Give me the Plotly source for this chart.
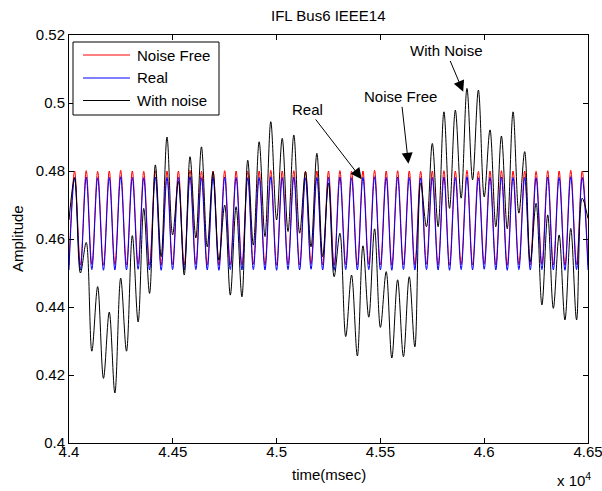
import plotly.graph_objects as go

# ---------------- data ----------------
t_start = 44000
peak_times = [44027, 44083, 44138, 44194, 44249, 44305, 44360, 44416, 44472, 44527,
              44583, 44638, 44694, 44750, 44805, 44861, 44916, 44972, 45027, 45083,
              45139, 45194, 45250, 45305, 45361, 45416, 45472, 45528, 45583, 45639,
              45694, 45750, 45806, 45861, 45917, 45972, 46028, 46083, 46139, 46195,
              46250, 46306, 46361, 46417, 46472]
trough_times = [44055, 44110, 44166, 44221, 44277, 44333, 44388, 44444, 44499, 44555,
                44611, 44666, 44722, 44777, 44833, 44888, 44944, 45000, 45055, 45111,
                45166, 45222, 45277, 45333, 45389, 45444, 45500, 45555, 45611, 45666,
                45722, 45778, 45833, 45889, 45944, 46000, 46056, 46111, 46167, 46222,
                46278, 46333, 46389, 46445, 46500]

noise_free_start = 0.4524
noise_free_peaks = [0.4800, 0.4801, 0.4799, 0.4800, 0.4802, 0.4800, 0.4799, 0.4801, 0.4800, 0.4800,
                    0.4802, 0.4799, 0.4800, 0.4801, 0.4800, 0.4799, 0.4800, 0.4802, 0.4800, 0.4801,
                    0.4799, 0.4800, 0.4800, 0.4801, 0.4799, 0.4800, 0.4802, 0.4800, 0.4801, 0.4800,
                    0.4799, 0.4800, 0.4801, 0.4800, 0.4802, 0.4799, 0.4800, 0.4801, 0.4800, 0.4800,
                    0.4799, 0.4801, 0.4800, 0.4802, 0.4800]
noise_free_troughs = [0.4524, 0.4526, 0.4523, 0.4525, 0.4524, 0.4527, 0.4524, 0.4523, 0.4525, 0.4524,
                      0.4526, 0.4524, 0.4523, 0.4525, 0.4524, 0.4526, 0.4524, 0.4523, 0.4525, 0.4524,
                      0.4527, 0.4524, 0.4523, 0.4525, 0.4524, 0.4526, 0.4524, 0.4523, 0.4525, 0.4524,
                      0.4526, 0.4524, 0.4523, 0.4525, 0.4524, 0.4527, 0.4524, 0.4523, 0.4525, 0.4524,
                      0.4526, 0.4524, 0.4523, 0.4525, 0.4524]

real_start = 0.4509
real_peaks = [0.4781, 0.4782, 0.4780, 0.4781, 0.4783, 0.4781, 0.4780, 0.4782, 0.4781, 0.4781,
              0.4783, 0.4780, 0.4781, 0.4782, 0.4781, 0.4780, 0.4781, 0.4783, 0.4781, 0.4782,
              0.4780, 0.4781, 0.4781, 0.4782, 0.4780, 0.4781, 0.4783, 0.4781, 0.4782, 0.4781,
              0.4780, 0.4781, 0.4782, 0.4781, 0.4783, 0.4780, 0.4781, 0.4782, 0.4781, 0.4781,
              0.4780, 0.4782, 0.4781, 0.4783, 0.4781]
real_troughs = [0.4509, 0.4510, 0.4508, 0.4509, 0.4509, 0.4511, 0.4509, 0.4508, 0.4510, 0.4509,
                0.4510, 0.4509, 0.4508, 0.4510, 0.4509, 0.4510, 0.4509, 0.4508, 0.4510, 0.4509,
                0.4511, 0.4509, 0.4508, 0.4510, 0.4509, 0.4510, 0.4509, 0.4508, 0.4510, 0.4509,
                0.4510, 0.4509, 0.4508, 0.4510, 0.4509, 0.4511, 0.4509, 0.4508, 0.4510, 0.4509,
                0.4510, 0.4509, 0.4508, 0.4510, 0.4509]

noise_start = 0.4656
noise_peaks = [0.4780, 0.4590, 0.4460, 0.4385, 0.4485, 0.4610, 0.4690, 0.4818, 0.4900, 0.4769,
               0.4842, 0.4871, 0.4798, 0.4700, 0.4695, 0.4832, 0.4886, 0.4945, 0.4896, 0.4906,
               0.4798, 0.4852, 0.4764, 0.4617, 0.4494, 0.4580, 0.4630, 0.4504, 0.4480, 0.4489,
               0.4765, 0.4881, 0.4974, 0.4979, 0.5043, 0.5038, 0.4921, 0.4903, 0.4974, 0.4857,
               0.4705, 0.4671, 0.4612, 0.4631, 0.4720]
noise_troughs = [0.4500, 0.4270, 0.4190, 0.4147, 0.4270, 0.4356, 0.4440, 0.4548, 0.4612, 0.4494,
                 0.4603, 0.4577, 0.4538, 0.4435, 0.4430, 0.4582, 0.4607, 0.4656, 0.4622, 0.4617,
                 0.4577, 0.4548, 0.4489, 0.4313, 0.4256, 0.4370, 0.4340, 0.4250, 0.4254, 0.4283,
                 0.4636, 0.4636, 0.4690, 0.4720, 0.4774, 0.4724, 0.4636, 0.4630, 0.4676, 0.4533,
                 0.4406, 0.4396, 0.4362, 0.4362, 0.4660]

x_tick_vals = [44000, 44500, 45000, 45500, 46000, 46500]
x_tick_text = ["4.4", "4.45", "4.5", "4.55", "4.6", "4.65"]
y_tick_vals = [0.40, 0.42, 0.44, 0.46, 0.48, 0.50, 0.52]
y_tick_text = ["0.4", "0.42", "0.44", "0.46", "0.48", "0.5", "0.52"]

# text labels with arrows: (text, text x, text y, arrow-tip x, arrow-tip y)
arrow_labels = [
    ("Real", 45151, 0.4981, 45410, 0.4776),
    ("Noise Free", 45599, 0.5018, 45635, 0.4821),
    ("With Noise", 45816, 0.5153, 45899, 0.5033),
]


def build(start, peaks, troughs):
    xs, ys = [t_start], [start]
    for tp, p, tt, tr in zip(peak_times, peaks, trough_times, troughs):
        xs += [tp, tt]
        ys += [p, tr]
    return xs, ys


W, H = 602, 491
PL, PR, PT, PB = 69, 588, 35, 443          # plot area in page pixels
L, T, R, B = PL, PT, W - PR, H - PB
PW, PH = PR - PL, PB - PT


def px(xp):
    return (xp - PL) / PW


def py(yp):
    return (PB - yp) / PH


FONT = "Liberation Sans, Arial, sans-serif"
FS = 15

fig = go.Figure()
series = [
    ("Noise Free", "#ff0000", noise_free_start, noise_free_peaks, noise_free_troughs),
    ("Real", "#0000ff", real_start, real_peaks, real_troughs),
    ("With noise", "#000000", noise_start, noise_peaks, noise_troughs),
]
for name, col, s, p, tr in series:
    xs, ys = build(s, p, tr)
    fig.add_trace(go.Scatter(x=xs, y=ys, mode="lines", name=name,
                             line=dict(color=col, width=1, shape="spline", smoothing=1.0),
                             showlegend=False, hoverinfo="skip"))

shapes = []
annotations = []

# manual legend (MATLAB style)
shapes.append(dict(type="rect", xref="paper", yref="paper",
                   x0=px(73), x1=px(219), y0=py(115), y1=py(42),
                   line=dict(color="black", width=1), fillcolor="white", layer="above"))
for (name, col, *_), yy in zip(series, [55, 78, 100.5]):
    shapes.append(dict(type="line", xref="paper", yref="paper",
                       x0=px(83), x1=px(130), y0=py(yy), y1=py(yy),
                       line=dict(color=col, width=1), layer="above"))
    annotations.append(dict(text=name, xref="paper", yref="paper", x=px(135), y=py(yy),
                            xanchor="left", yanchor="middle", showarrow=False,
                            font=dict(family=FONT, size=FS, color="black")))

for text, tx, ty, hx, hy in arrow_labels:
    annotations.append(dict(text=text, x=hx, y=hy, xref="x", yref="y",
                            ax=tx, ay=ty, axref="x", ayref="y", showarrow=True,
                            arrowhead=2, arrowsize=2.2, arrowwidth=1, arrowcolor="black",
                            standoff=0, startstandoff=0,
                            font=dict(family=FONT, size=FS, color="black")))

# titles
annotations.append(dict(text="IFL Bus6 IEEE14", xref="paper", yref="paper", x=0.5, y=py(16),
                        xanchor="center", yanchor="middle", showarrow=False,
                        font=dict(family=FONT, size=FS, color="black")))
annotations.append(dict(text="time(msec)", xref="paper", yref="paper", x=0.5, y=py(474),
                        xanchor="center", yanchor="middle", showarrow=False,
                        font=dict(family=FONT, size=FS, color="black")))
annotations.append(dict(text="Amplitude", xref="paper", yref="paper", x=px(17), y=0.5,
                        xanchor="center", yanchor="middle", showarrow=False, textangle=-90,
                        font=dict(family=FONT, size=FS, color="black")))
annotations.append(dict(text="x 10<sup>4</sup>", xref="paper", yref="paper", x=px(555), y=py(491),
                        xanchor="left", yanchor="bottom", showarrow=False,
                        font=dict(family=FONT, size=FS, color="black")))

axis_common = dict(showline=True, linecolor="black", linewidth=1, mirror="ticks",
                   ticks="inside", ticklen=5, tickcolor="black", showgrid=False, zeroline=False,
                   automargin=False, ticklabeloverflow="allow",
                   tickfont=dict(family=FONT, size=FS, color="black"))

fig.update_layout(
    width=W, height=H, margin=dict(l=L, r=R, t=T, b=B),
    paper_bgcolor="white", plot_bgcolor="white",
    xaxis=dict(range=[44000, 46500], tickvals=x_tick_vals, ticktext=x_tick_text,
               ticklabelstandoff=-5, **axis_common),
    yaxis=dict(range=[0.40, 0.52], tickvals=y_tick_vals, ticktext=y_tick_text, **axis_common),
    shapes=shapes, annotations=annotations, showlegend=False, hovermode=False,
)

fig.write_html("out.html", config={"displayModeBar": False, "staticPlot": True},
               post_script="document.body.style.margin='0';document.body.style.overflow='hidden';")
